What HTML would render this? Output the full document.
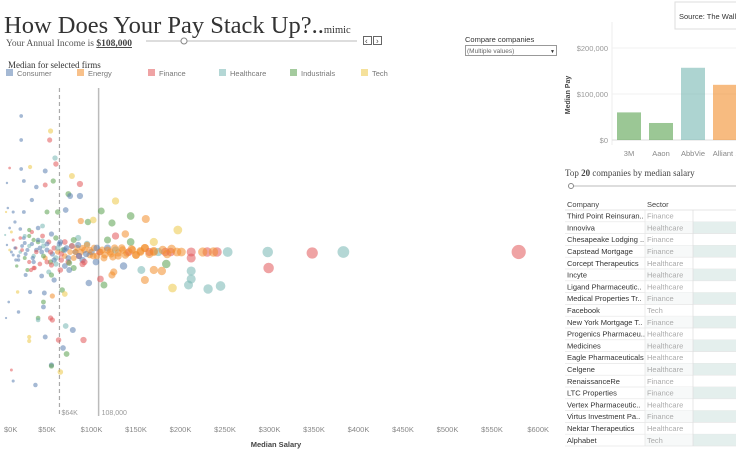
<!DOCTYPE html>
<html><head><meta charset="utf-8">
<style>
body{margin:0;background:#fff;width:736px;height:454px;overflow:hidden;font-family:"Liberation Sans",sans-serif}
svg{display:block}
.s{font-family:"Liberation Serif",serif}
</style></head>
<body>
<svg id="root" width="736" height="454" viewBox="0 0 736 454" xmlns="http://www.w3.org/2000/svg">
<text class="s" x="4" y="33" font-size="24.5" fill="#333">How Does Your Pay Stack Up?..<tspan font-size="10.5">mimic</tspan></text>
<text class="s" x="6" y="46" font-size="9.5" fill="#555">Your Annual Income is <tspan font-weight="bold" text-decoration="underline" fill="#444">$108,000</tspan></text>
<g>
<line x1="146" y1="41" x2="357" y2="41" stroke="#ddd" stroke-width="2"/>
<circle cx="184" cy="41" r="3" fill="#fff" stroke="#888"/>
</g>
<g><rect x="363.5" y="36.5" width="8" height="8" fill="#fff" stroke="#666"/><text x="365" y="43.5" font-size="8" fill="#444">‹</text></g>
<g><rect x="373.5" y="36.5" width="8" height="8" fill="#fff" stroke="#666"/><text x="376" y="43.5" font-size="8" fill="#444">›</text></g>
<text x="465" y="42" font-size="7.5" fill="#333">Compare companies</text>
<g><rect x="465.5" y="45.5" width="91" height="10" fill="#fff" stroke="#999"/><text x="467" y="53" font-size="6.5" fill="#666">(Multiple values)</text><text x="550" y="53" font-size="5" fill="#333">▼</text></g>
<text class="s" x="8" y="68" font-size="9" fill="#333">Median for selected firms</text>
<g id="legend"></g>
<g id="scatter"></g>
<g id="bars"></g>
<g><rect x="675" y="2" width="70" height="27" fill="#fff" stroke="#ddd"/><text x="679" y="19" font-size="7.5" fill="#333">Source: The Wall</text></g>
<text class="s" x="565" y="176" font-size="9" fill="#444">Top <tspan font-weight="bold">20</tspan> companies by median salary</text>
<g><line x1="570" y1="186" x2="736" y2="186" stroke="#ddd" stroke-width="2"/><circle cx="571" cy="186" r="2.5" fill="#fff" stroke="#888"/></g>
<g id="table"></g>
</svg>
<script>
const NS="http://www.w3.org/2000/svg";
function mk(tag,attrs,parent){const e=document.createElementNS(NS,tag);for(const k in attrs)e.setAttribute(k,attrs[k]);parent.appendChild(e);return e;}
const sectors=["Consumer","Energy","Finance","Healthcare","Industrials","Tech"];
const sectorColors=["#5b7fb0","#f28e2b","#e15759","#76b7b2","#59a14f","#edc948"];
const legendX=[6,77,148,219,290,361];
const lg=document.getElementById('legend');
sectors.forEach((s,i)=>{
  const g=mk('g',{},lg);
  
  
  mk('rect',{x:legendX[i],y:69,width:7,height:7,fill:sectorColors[i],opacity:0.55},g);
  const t=mk('text',{x:legendX[i]+11,y:76,'font-size':7.5,fill:'#777'},g);t.textContent=s;
});

const payK=[580,383,348,298,299,253,245,241,231,212,209,212,230,225,237,212,191,197,189,183,170,212,179,170,156,136,184,160,125,123,110,114,97,127,111,123,144,161,96,88,102,127,138,144,170,87,78,74,76,87,71,91,72,
21,21,54,53,59,60,21,31,48,57,48,38,24,33,50,62,24,67,56,70,31,47,46,46,40,40,54,56,71,79,48,30,30,55,55,65,10,37,12,18,17,7,4,8,5,6,4,12,14,8,20,3,10,24,33,45,40,30,63,68,
5,8,12,15,18,20,22,25,28,30,33,35,38,40,42,44,46,48,50,52,54,56,58,60,62,64,66,68,70,72,74,76,78,80,82,84,86,88,90,92,95,98,100,103,106,109,112,115,118,121,124,127,130,134,138,142,146,150,155,160,165,175,196,201,28,36,44,52,58,65,45,55,60,35,70,80,85,35,26,16,12,25,55,75,92,105,118,
10,14,18,22,26,30,34,38,42,46,50,54,58,62,66,70,74,78,82,86,90,94,98,102,106,110,114,118,122,126,130,135,140,145,150,155,160,165,170,180,185,190,20,30,40,50,60,70,80,90,25,35,45,55,65,75,85,95,15,32];
const sectorOf=[2,3,2,3,2,3,3,2,3,3,3,2,2,1,1,3,5,5,2,2,1,2,1,1,3,0,4,1,1,1,2,4,0,5,4,4,4,1,4,1,5,2,1,4,5,2,5,4,0,0,0,2,4,
0,0,5,2,3,2,0,5,0,4,2,0,0,0,4,4,0,4,1,5,0,0,4,0,4,3,2,2,3,0,0,5,5,0,4,5,2,0,0,0,5,0,0,2,0,0,5,0,0,0,0,3,5,0,2,3,0,4,2,0,
0,5,0,2,0,3,0,4,0,2,0,3,0,4,2,0,3,1,0,2,4,0,2,3,1,0,2,4,1,0,2,1,3,1,0,1,2,1,0,1,3,1,0,1,1,2,1,1,0,1,1,3,1,1,1,2,1,1,1,1,2,3,1,1,4,2,0,3,0,2,2,0,4,4,2,4,3,2,0,4,2,3,4,0,2,0,4,
0,0,0,2,0,3,0,2,0,4,0,2,0,3,2,0,0,2,1,0,1,0,1,1,0,1,1,1,1,1,1,1,1,1,1,1,1,1,1,1,1,1,2,4,0,2,3,0,4,2,0,0,3,2,0,4,0,1,0,2];
const jitterY=[252,252,253,252,268,252,286,252,289,271,285,252,252,252,252,279,288,230,252,252,251,258,271,270,270,266,264,280,272,275,279,285,283,201,211,223,216,219,222,221,220,236,234,242,242,184,176,194,196,196,210,340,354,
116,140,131,140,158,164,169,167,171,181,185,187,181,200,212,212,212,290,296,294,292,293,302,307,318,320,318,320,326,330,337,337,341,365,366,372,370,385,381,312,292,302,318,168,183,208,212,212,222,228,229,235,232,238,232,226,228,230,340,348,
245,250,255,248,260,252,246,258,250,262,244,256,250,242,264,252,246,258,250,242,262,254,248,258,252,244,260,250,256,248,262,252,246,258,252,248,256,252,260,250,244,255,252,248,256,252,250,255,248,252,257,250,253,248,255,252,250,255,252,248,252,252,252,252,270,268,276,272,280,270,236,234,238,240,242,268,238,268,275,266,240,236,275,270,262,262,240,
252,248,256,250,254,246,258,252,248,256,244,252,260,248,254,250,258,246,252,256,248,254,250,256,248,252,258,250,254,248,256,250,253,249,255,251,248,254,252,250,254,249,238,236,240,262,264,266,240,264,243,262,241,265,242,263,245,245,260,270];
const xTicks=[0,50,100,150,200,250,300,350,400,450,500,550,600];
const xTickLabels=["$0K","$50K","$100K","$150K","$200K","$250K","$300K","$350K","$400K","$450K","$500K","$550K","$600K"];
const refMedian=64, yourIncome=108;
const xS=v=>2.5+v*0.89;
const sc=document.getElementById('scatter');
const ml=mk('line',{x1:xS(refMedian),y1:88,x2:xS(refMedian),y2:416,stroke:'#aaa','stroke-dasharray':'4,3','stroke-width':1.2},sc);

const yl=mk('line',{x1:xS(yourIncome),y1:88,x2:xS(yourIncome),y2:416,stroke:'#bbb','stroke-width':1.5},sc);

const n=Math.min(payK.length,sectorOf.length,jitterY.length);
for(let i=0;i<n;i++){
  const c=mk('circle',{cx:xS(payK[i]),cy:jitterY[i],r:0.6+0.27*Math.sqrt(payK[i]),fill:sectorColors[sectorOf[i]],opacity:0.55},sc);
  
  
}
let t=mk('text',{x:xS(refMedian)+2,y:415,'font-size':7,fill:'#999'},sc);t.textContent='$64K';

t=mk('text',{x:xS(yourIncome)+3,y:415,'font-size':7,fill:'#999'},sc);t.textContent='108,000';

xTicks.forEach((v,i)=>{
  const last=i===xTicks.length-1, first=i===0;
  const tt=mk('text',{x:first?4:(last?549:xS(v)),y:432,'font-size':7.5,fill:'#888','text-anchor':first?'start':(last?'end':'middle')},sc);
  tt.textContent=xTickLabels[i];
  
  
});
t=mk('text',{x:276,y:447,'font-size':7.5,'font-weight':'bold',fill:'#444','text-anchor':'middle'},sc);t.textContent='Median Salary';


const barCompanies=["3M","Aaon","AbbVie","Alliant ."];
const barPay=[60,37,157,120];
const barSector=[4,4,3,1];
const barTicks=[0,100,200];
const barTickLabels=["$0","$100,000","$200,000"];
const yB=v=>140-v*0.46;
const bg=document.getElementById('bars');
mk('line',{x1:612,y1:22,x2:612,y2:145,stroke:'#eee'},bg);
barTicks.forEach((v,i)=>{
  const gl=mk('line',{x1:612,y1:yB(v),x2:736,y2:yB(v),stroke:v===0?'#ddd':'#f0f0f0'},bg);
  
  const tl=mk('text',{x:608,y:yB(v)+3,'font-size':7.5,fill:'#999','text-anchor':'end'},bg);tl.textContent=barTickLabels[i];
  
});
t=mk('text',{x:570,y:95,'font-size':7,'font-weight':'bold',fill:'#444','text-anchor':'middle',transform:'rotate(-90 570 95)'},bg);t.textContent='Median Pay';

barCompanies.forEach((c,i)=>{
  const x=617+i*32;
  const r=mk('rect',{x:x,y:yB(barPay[i]),width:24,height:140-yB(barPay[i]),fill:sectorColors[barSector[i]],opacity:0.6},bg);
  
  
  const l=mk('text',{x:x+12,y:156,'font-size':7.5,fill:'#888','text-anchor':'middle'},bg);l.textContent=c;
  
});

const tblCompanies=["Third Point Reinsuran..","Innoviva","Chesapeake Lodging ..","Capstead Mortgage","Corcept Therapeutics","Incyte","Ligand Pharmaceutic..","Medical Properties Tr..","Facebook","New York Mortgage T..","Progenics Pharmaceu..","Medicines","Eagle Pharmaceuticals","Celgene","RenaissanceRe","LTC Properties","Vertex Pharmaceutic..","Virtus Investment Pa..","Nektar Therapeutics","Alphabet"];
const tblSectors=["Finance","Healthcare","Finance","Finance","Healthcare","Healthcare","Healthcare","Finance","Tech","Finance","Healthcare","Healthcare","Healthcare","Healthcare","Finance","Finance","Healthcare","Finance","Healthcare","Tech"];
const tb=document.getElementById('table');
t=mk('text',{x:567,y:207,'font-size':7.5,fill:'#444'},tb);t.textContent='Company';

t=mk('text',{x:647,y:207,'font-size':7.5,fill:'#444'},tb);t.textContent='Sector';

tblCompanies.forEach((c,i)=>{
  const y=210+i*11.8;
  const g=mk('g',{},tb);
  
  
  if(i%2===1){mk('rect',{x:645,y:y,width:48,height:11.8,fill:'#f7f9f9'},g);mk('rect',{x:693,y:y,width:43,height:11.8,fill:'#e4efed'},g);}
  mk('line',{x1:565,y1:y+11.8,x2:736,y2:y+11.8,stroke:'#e6e6e6','stroke-width':0.7},g);
  const a=mk('text',{x:567,y:y+8.6,'font-size':7.5,fill:'#333'},g);a.textContent=c;
  const b=mk('text',{x:647,y:y+8.6,'font-size':7.5,fill:'#aaa'},g);b.textContent=tblSectors[i];
});
mk('line',{x1:645,y1:210,x2:645,y2:446,stroke:'#e6e6e6','stroke-width':0.7},tb);
mk('line',{x1:693,y1:210,x2:693,y2:446,stroke:'#ddd','stroke-width':0.7},tb);
mk('line',{x1:565,y1:210,x2:736,y2:210,stroke:'#ddd','stroke-width':0.7},tb);
</script>
</body></html>
